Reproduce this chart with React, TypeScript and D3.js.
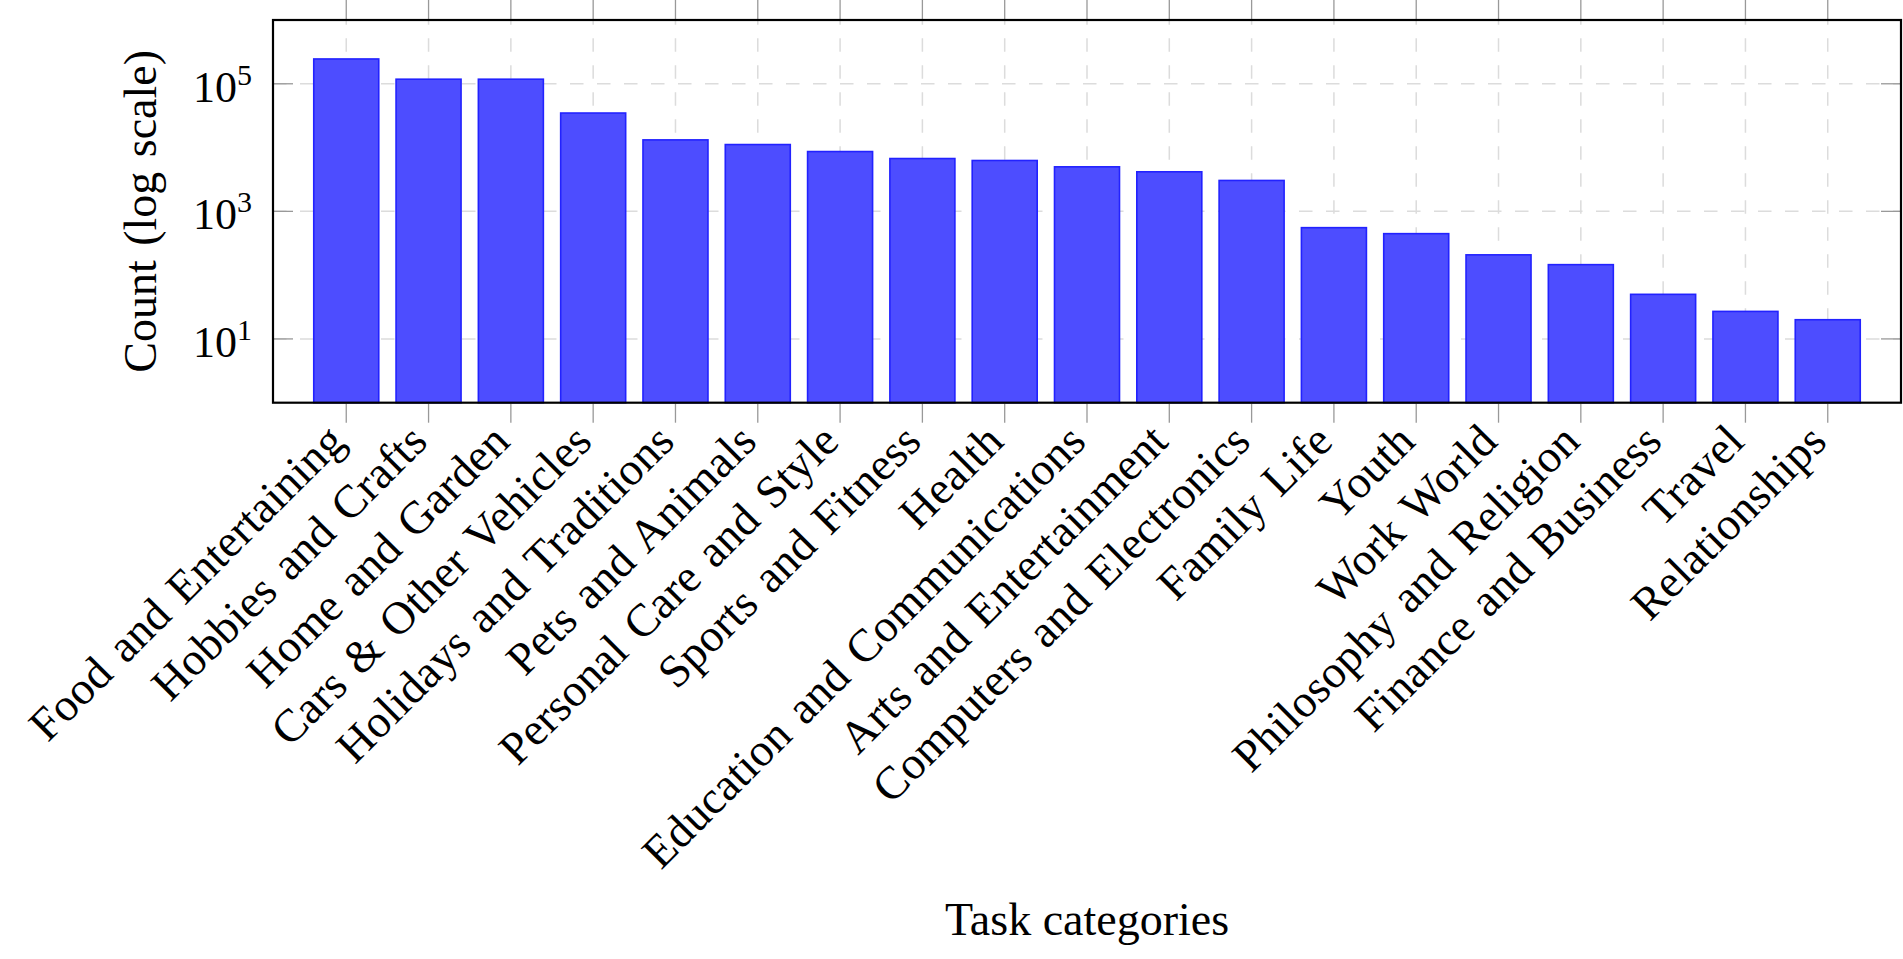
import React from 'react';
import * as d3 from 'd3';

// task categories, sorted by count
const categories = [
  'Food and Entertaining',
  'Hobbies and Crafts',
  'Home and Garden',
  'Cars & Other Vehicles',
  'Holidays and Traditions',
  'Pets and Animals',
  'Personal Care and Style',
  'Sports and Fitness',
  'Health',
  'Education and Communications',
  'Arts and Entertainment',
  'Computers and Electronics',
  'Family Life',
  'Youth',
  'Work World',
  'Philosophy and Religion',
  'Finance and Business',
  'Travel',
  'Relationships',
];

const counts = [
  245000, 118000, 118000, 34800, 13200, 11150, 8660, 6730, 6270, 4990,
  4170, 3050, 555, 447, 208, 146, 50, 27, 20,
];

const yTickValues = [10, 1000, 100000];
const yTickExponents = ['1', '3', '5'];

const xTitle = 'Task categories';
const yTitle = 'Count (log scale)';

const App = () => {
  const width = 1903;
  const height = 959;
  const left = 273;
  const right = 1901;
  const top = 20;
  const bottom = 402.7;
  const font = "'Liberation Serif', 'Times New Roman', serif";

  const x = d3.scalePoint<string>()
    .domain(categories)
    .range([left, right])
    .padding(0.89);

  const y = d3.scaleLog()
    .domain([1, 1e6])
    .range([bottom, top]);

  const barWidth = 65;
  const tickLen = 20;

  return (
    <svg
      width={width}
      height={height}
      style={{ position: 'absolute', left: 0, top: 0, background: '#fff' }}
    >
      {/* grid */}
      <g stroke="#dcdcdc" strokeWidth={1.5} strokeDasharray="13.5 13.5">
        {categories.map(c => (
          <line key={c} x1={x(c)} x2={x(c)} y1={bottom} y2={top} />
        ))}
        {yTickValues.map(v => (
          <line key={v} x1={left} x2={right} y1={y(v)} y2={y(v)} />
        ))}
      </g>

      {/* bars */}
      <g fill="#4d4dff" stroke="#2222ff" strokeWidth={1.6}>
        {categories.map((c, i) => (
          <rect
            key={c}
            x={(x(c) as number) - barWidth / 2}
            y={y(counts[i])}
            width={barWidth}
            height={bottom - y(counts[i])}
          />
        ))}
      </g>

      {/* ticks */}
      <g stroke="#999" strokeWidth={1.3}>
        {categories.map(c => (
          <g key={c}>
            <line x1={x(c)} x2={x(c)} y1={bottom} y2={bottom + tickLen} />
            <line x1={x(c)} x2={x(c)} y1={top} y2={top - tickLen} />
          </g>
        ))}
        {yTickValues.map(v => (
          <g key={v}>
            <line x1={left} x2={left + tickLen} y1={y(v)} y2={y(v)} />
            <line x1={right} x2={right - tickLen} y1={y(v)} y2={y(v)} />
          </g>
        ))}
      </g>

      {/* frame */}
      <rect
        x={left}
        y={top}
        width={right - left}
        height={bottom - top}
        fill="none"
        stroke="#000"
        strokeWidth={2.2}
      />

      {/* y tick labels */}
      <g fontFamily={font} fill="#000">
        {yTickValues.map((v, i) => (
          <text key={v} x={252} y={y(v) + 18} textAnchor="end" fontSize={44}>
            10
            <tspan fontSize={30} dy={-17}>{yTickExponents[i]}</tspan>
          </text>
        ))}
      </g>

      {/* x tick labels */}
      <g fontFamily={font} fontSize={46} fill="#000" letterSpacing={0.2} wordSpacing={4}>
        {categories.map(c => (
          <text
            key={c}
            textAnchor="end"
            dominantBaseline="central"
            transform={`translate(${(x(c) as number) - 10}, ${bottom + 30}) rotate(-45)`}
          >
            {c}
          </text>
        ))}
      </g>

      {/* axis titles */}
      <text
        x={(left + right) / 2}
        y={935}
        textAnchor="middle"
        fontFamily={font}
        fontSize={46}
      >
        {xTitle}
      </text>
      <text
        transform={`translate(156, ${(top + bottom) / 2}) rotate(-90)`}
        textAnchor="middle"
        fontFamily={font}
        fontSize={46}
        wordSpacing={3}
      >
        {yTitle}
      </text>
    </svg>
  );
};

export default App;
